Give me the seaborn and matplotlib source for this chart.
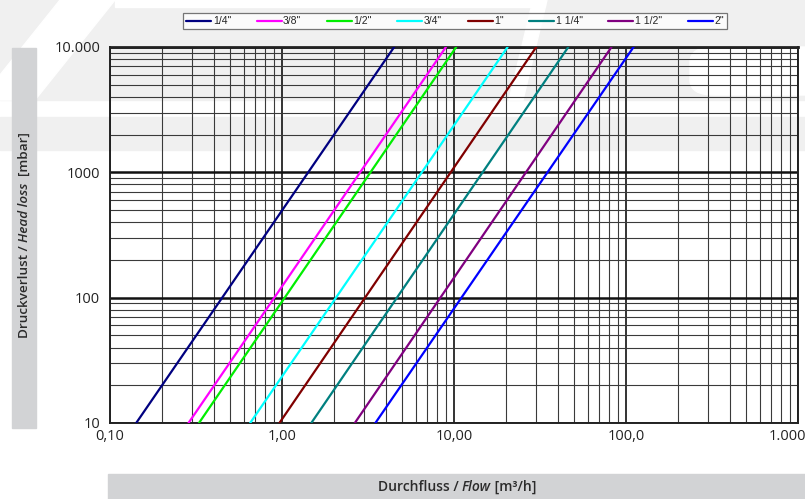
import numpy as np
import pandas as pd
import seaborn as sns
import matplotlib.pyplot as plt
from matplotlib.patches import Rectangle, Polygon, FancyBboxPatch
from matplotlib.ticker import NullFormatter, FixedLocator

sns.set_style('white')
plt.rcParams['font.family'] = ['Open Sans', 'DejaVu Sans']

# pipe sizes and the flow read at 10 mbar and 10.000 mbar
sizes = ['1/4"', '3/8"', '1/2"', '3/4"', '1"', '1 1/4"', '1 1/2"', '2"']
flow_at_10 = [0.142, 0.286, 0.329, 0.653, 0.966, 1.48, 2.65, 3.49]
flow_at_10000 = [4.49, 8.98, 10.3, 20.5, 30.1, 46.2, 82.4, 110.7]
head_loss = [10, 10000]
colors = ['#000080', '#ff00ff', '#00ee00', '#00ffff', '#800000', '#008080', '#800080', '#0000ff']

x_ticks = [0.1, 1, 10, 100, 1000]
x_labels = ['0,10', '1,00', '10,00', '100,0', '1.000,00']
y_ticks = [10, 100, 1000, 10000]
y_labels = ['10', '100', '1000', '10.000']

rows = []
for s, q0, q1 in zip(sizes, flow_at_10, flow_at_10000):
    rows.append({'size': s, 'flow': q0, 'loss': head_loss[0]})
    rows.append({'size': s, 'flow': q1, 'loss': head_loss[1]})
df = pd.DataFrame(rows)

W, H = 805, 499
fig = plt.figure(figsize=(8.05, 4.99), dpi=100)


def px(pts):
    return [(x / W, 1 - y / H) for x, y in pts]


# faint watermark in the background
wm = '#f0f0f0'
fig.patches.append(Polygon(px([(0, 0), (W, 0), (W, 100), (0, 100)]), transform=fig.transFigure,
                           color=wm, zorder=-10))
fig.patches.append(Polygon(px([(0, 117), (W, 117), (W, 150), (0, 150)]), transform=fig.transFigure,
                           color=wm, zorder=-10))
for shape in [[(60, 0), (115, 0), (35, 100), (-20, 100)],
              [(115, 0), (545, 0), (545, 7), (115, 7)],
              [(533, 0), (547, 0), (523, 100), (509, 100)]]:
    fig.patches.append(Polygon(px(shape), transform=fig.transFigure, color='white', zorder=-9))
fig.patches.append(FancyBboxPatch((690 / W, 1 - 95 / H), 140 / W, 48 / H,
                                  boxstyle='round,pad=0,rounding_size=0.03',
                                  transform=fig.transFigure, color='white', zorder=-9))

ax = fig.add_axes([110 / W, 76 / H, 688 / W, 376 / H])
ax.set_facecolor('none')

sns.lineplot(data=df, x='flow', y='loss', hue='size', palette=dict(zip(sizes, colors)),
             hue_order=sizes, lw=1.6, ax=ax, legend=True, zorder=5)
ax.set_xscale('log')
ax.set_yscale('log')
ax.set_xlim(0.1, 1000)
ax.set_ylim(10, 10000)

ax.set_xticks(x_ticks)
ax.set_xticklabels(x_labels)
ax.set_yticks(y_ticks)
ax.set_yticklabels(y_labels)
minor = [m * 10.0 ** e for e in range(-1, 4) for m in range(2, 10)]
ax.xaxis.set_minor_locator(FixedLocator(minor))
ax.yaxis.set_minor_locator(FixedLocator(minor))
ax.xaxis.set_minor_formatter(NullFormatter())
ax.yaxis.set_minor_formatter(NullFormatter())
ax.tick_params(which='both', length=0, labelsize=10.5, colors='#222222')
ax.tick_params(axis='x', pad=4)
ax.tick_params(axis='y', pad=7)

ax.grid(which='major', axis='y', color='#111111', lw=1.8)
ax.grid(which='major', axis='x', color='#111111', lw=1.2)
ax.grid(which='minor', color='#3a3a3a', lw=0.8)
ax.set_axisbelow(True)
for sp in ax.spines.values():
    sp.set_color('#222222')
    sp.set_linewidth(1.4)
ax.spines['top'].set_linewidth(2.0)
ax.set_xlabel('')
ax.set_ylabel('')

handles, labels = ax.get_legend_handles_labels()
ax.get_legend().remove()
leg = fig.legend(handles, labels, loc='upper center', bbox_to_anchor=(455 / W, 1 - 8 / H),
                 ncol=8, frameon=True, fancybox=False, handlelength=2.4,
                 handletextpad=0.15, columnspacing=2.45, borderpad=0.3,
                 prop={'family': 'Liberation Sans', 'size': 7.5})
leg.get_frame().set_edgecolor('#555555')
leg.get_frame().set_linewidth(0.9)

# grey label boxes
box = '#d2d3d5'
fig.patches.append(Rectangle((12 / W, 1 - 428 / H), 24 / W, 380 / H,
                             transform=fig.transFigure, color=box, zorder=-5))
fig.patches.append(Rectangle((108 / W, 0), 697 / W, 25 / H,
                             transform=fig.transFigure, color=box, zorder=-5))

tc = '#2b2b2b'
r = fig.canvas.get_renderer()
t1 = fig.text(24 / W, 0, 'Druckverlust / ', rotation=90, ha='center', va='bottom',
              fontsize=9.7, fontweight='semibold', color=tc)
t2 = fig.text(24 / W, 0, 'Head loss', rotation=90, ha='center', va='bottom', fontsize=9.7,
              fontweight='semibold', style='italic', color=tc)
t3 = fig.text(24 / W, 0, '  [mbar]', rotation=90, ha='center', va='bottom', fontsize=9.7,
              fontweight='semibold', color=tc)
fig.canvas.draw()
hs = [t.get_window_extent(r).height / fig.bbox.height for t in (t1, t2, t3)]
y = 1 - 235 / H - sum(hs) / 2
for t, h in zip((t1, t2, t3), hs):
    t.set_y(y)
    y += h

u1 = fig.text(0, 12 / H, 'Durchfluss / ', ha='left', va='center', fontsize=10,
              fontweight='semibold', color=tc)
u2 = fig.text(0, 12 / H, 'Flow', ha='left', va='center', fontsize=10,
              fontweight='semibold', style='italic', color=tc)
u3 = fig.text(0, 12 / H, ' [m³/h]', ha='left', va='center', fontsize=10,
              fontweight='semibold', color=tc)
fig.canvas.draw()
ws = [u.get_window_extent(r).width / fig.bbox.width for u in (u1, u2, u3)]
x = 457 / W - sum(ws) / 2
for u, w in zip((u1, u2, u3), ws):
    u.set_x(x)
    x += w

fig.savefig('out.png', dpi=100)
